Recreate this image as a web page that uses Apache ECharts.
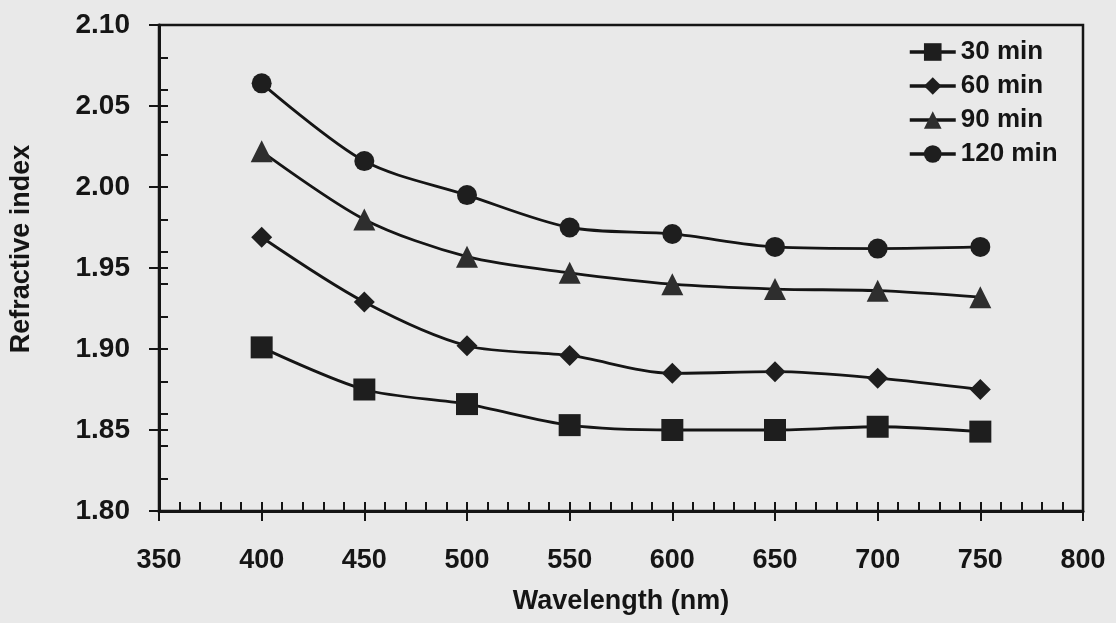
<!DOCTYPE html>
<html>
<head>
<meta charset="utf-8">
<script src="https://cdn.jsdelivr.net/npm/echarts@6/dist/echarts.min.js"></script>
<style>
html, body { margin: 0; padding: 0; background: #e9e9e9; }
#chart { width: 1116px; height: 623px; }
</style>
</head>
<body>
<div id="chart"></div>
<script>
var wavelengths = [400, 450, 500, 550, 600, 650, 700, 750];
var min30 = [1.901, 1.875, 1.866, 1.853, 1.850, 1.850, 1.852, 1.849];
var min60 = [1.969, 1.929, 1.902, 1.896, 1.885, 1.886, 1.882, 1.875];
var min90 = [2.022, 1.980, 1.957, 1.947, 1.940, 1.937, 1.936, 1.932];
var min120 = [2.064, 2.016, 1.995, 1.975, 1.971, 1.963, 1.962, 1.963];
var seriesNames = ['30 min', '60 min', '90 min', '120 min'];
var seriesSymbols = ['rect', 'diamond', 'triangle', 'circle'];
var seriesSizes = [22, 21, 22, 20];

var font = 'Liberation Sans';
var ink = '#151515';

function pairs(ys) {
	var out = [];
	for (var i = 0; i < wavelengths.length; i++) {
		out.push([wavelengths[i], ys[i]]);
	}
	return out;
}

function makeSeries(name, ys, i) {
	return {
		name: name,
		type: 'line',
		data: pairs(ys),
		smooth: 0.3,
		symbol: seriesSymbols[i],
		symbolSize: seriesSizes[i],
		lineStyle: {color: ink, width: 2.8},
		itemStyle: {color: i === 2 ? '#2e2e2e' : '#1e1e1e', borderWidth: 0},
		emphasis: {disabled: true}
	};
}

// extra axes only draw ticks (crossing majors + inside minors, like excel)
function tickAxis(base, interval, len) {
	return echarts.util.extend(base, {
		interval: interval,
		axisLine: {show: false},
		axisLabel: {show: false},
		splitLine: {show: false},
		axisTick: {show: true, inside: true, length: len, lineStyle: {color: ink, width: 2}}
	});
}

var chart = echarts.init(document.getElementById('chart'));
var allYs = [min30, min60, min90, min120];

chart.setOption({
	backgroundColor: '#e9e9e9',
	animation: false,
	grid: {
		left: 159, right: 33, top: 25, bottom: 112,
		show: true, borderColor: ink, borderWidth: 2.5, backgroundColor: 'transparent'
	},
	legend: {
		orient: 'vertical',
		left: 903, top: 34,
		itemWidth: 46, itemHeight: 22, itemGap: 8,
		lineStyle: {width: 3.5, color: ink},
		textStyle: {fontFamily: font, fontWeight: 'bold', fontSize: 26, color: ink},
		data: seriesNames
	},
	xAxis: [{
		type: 'value', min: 350, max: 800, interval: 50,
		name: 'Wavelength (nm)', nameLocation: 'middle', nameGap: 77,
		nameTextStyle: {fontFamily: font, fontWeight: 'bold', fontSize: 27, color: ink},
		axisLine: {show: true, lineStyle: {color: ink, width: 3}},
		axisTick: {show: true, inside: false, length: 10, lineStyle: {color: ink, width: 2}},
		axisLabel: {margin: 36, fontFamily: font, fontWeight: 'bold', fontSize: 27, color: ink},
		splitLine: {show: false}
	},
	tickAxis({type: 'value', min: 350, max: 800, position: 'bottom'}, 10, 9)],
	yAxis: [{
		type: 'value', min: 1.80, max: 2.10, interval: 0.05,
		name: 'Refractive index', nameLocation: 'middle', nameGap: 124,
		nameTextStyle: {fontFamily: font, fontWeight: 'bold', fontSize: 27, color: ink, padding: [0, 0, 0, 38]},
		axisLine: {show: true, lineStyle: {color: ink, width: 3}},
		axisTick: {show: true, inside: false, length: 10, lineStyle: {color: ink, width: 2}},
		axisLabel: {
			margin: 29, fontFamily: font, fontWeight: 'bold', fontSize: 28, color: ink,
			formatter: function (v) { return v.toFixed(2); }
		},
		splitLine: {show: false}
	},
	tickAxis({type: 'value', min: 1.80, max: 2.10, position: 'left'}, 0.05, 9),
	tickAxis({type: 'value', min: 1.80, max: 2.10, position: 'left'}, 0.02, 9)],
	series: seriesNames.map(function (n, i) { return makeSeries(n, allYs[i], i); })
});
</script>
</body>
</html>
